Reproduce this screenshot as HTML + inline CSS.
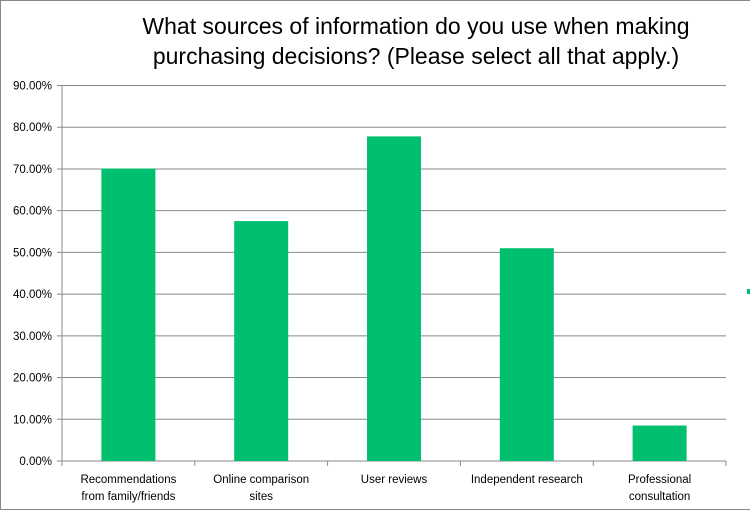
<!DOCTYPE html>
<html><head><meta charset="utf-8"><style>
body{margin:0;background:#fff;}
svg text{font-family:"Liberation Sans",sans-serif;}
</style></head><body>
<svg width="750" height="512">
<rect x="0.5" y="0.5" width="760" height="509" fill="#fff" stroke="#888"/>
<text x="416" y="34" font-size="23" text-anchor="middle" fill="#000">What sources of information do you use when making</text>
<text x="416" y="64" font-size="23" text-anchor="middle" fill="#000">purchasing decisions? (Please select all that apply.)</text>
<g id="grid"></g>
<g id="bars"></g>
<g id="labels"></g>
<rect x="747" y="289" width="3" height="5" fill="#00BF6F"/>
</svg>
<script>
const categories=[["Recommendations","from family/friends"],["Online comparison","sites"],["User reviews"],["Independent research"],["Professional","consultation"]];
const values=[70.1,57.5,77.8,51.0,8.5];
const ticks=[0,10,20,30,40,50,60,70,80,90];
const NS="http://www.w3.org/2000/svg";
const x0=62,x1=726,yb=461,yt=85.5,maxV=90;
const y=v=>yb-(v/maxV)*(yb-yt);
const band=(x1-x0)/categories.length;
function mk(t,a,p){const e=document.createElementNS(NS,t);for(const k in a)e.setAttribute(k,a[k]);p.appendChild(e);return e;}
const g=document.getElementById('grid');
ticks.forEach(t=>{
  const l=mk('line',{x1:x0-5,x2:x1,y1:y(t),y2:y(t),stroke:'#888','stroke-width':1},g);
  
  
  const tx=mk('text',{x:52,y:y(t)+4,'font-size':11.5,'text-anchor':'end',fill:'#000'},g);
  tx.textContent=t.toFixed(2)+'%';
  
  
});
const ax=mk('line',{x1:x0,x2:x0,y1:yt,y2:yb,stroke:'#888'},g);


for(let i=0;i<=categories.length;i++){
  const tk=mk('line',{x1:x0+i*band,x2:x0+i*band,y1:yb,y2:yb+5,stroke:'#888'},g);
  
  
}
const b=document.getElementById('bars'),lb=document.getElementById('labels');
const bw=54;
values.forEach((v,i)=>{
  const cx=x0+band*(i+0.5);
  const r=mk('rect',{x:cx-bw/2,y:y(v),width:bw,height:yb-y(v),fill:'#00BF6F'},b);
  
  
  categories[i].forEach((s,j)=>{
    const t=mk('text',{x:cx,y:483+j*17,'font-size':11.5,'text-anchor':'middle',fill:'#000'},lb);
    t.textContent=s;
    
    
  });
});
</script>
</body></html>
